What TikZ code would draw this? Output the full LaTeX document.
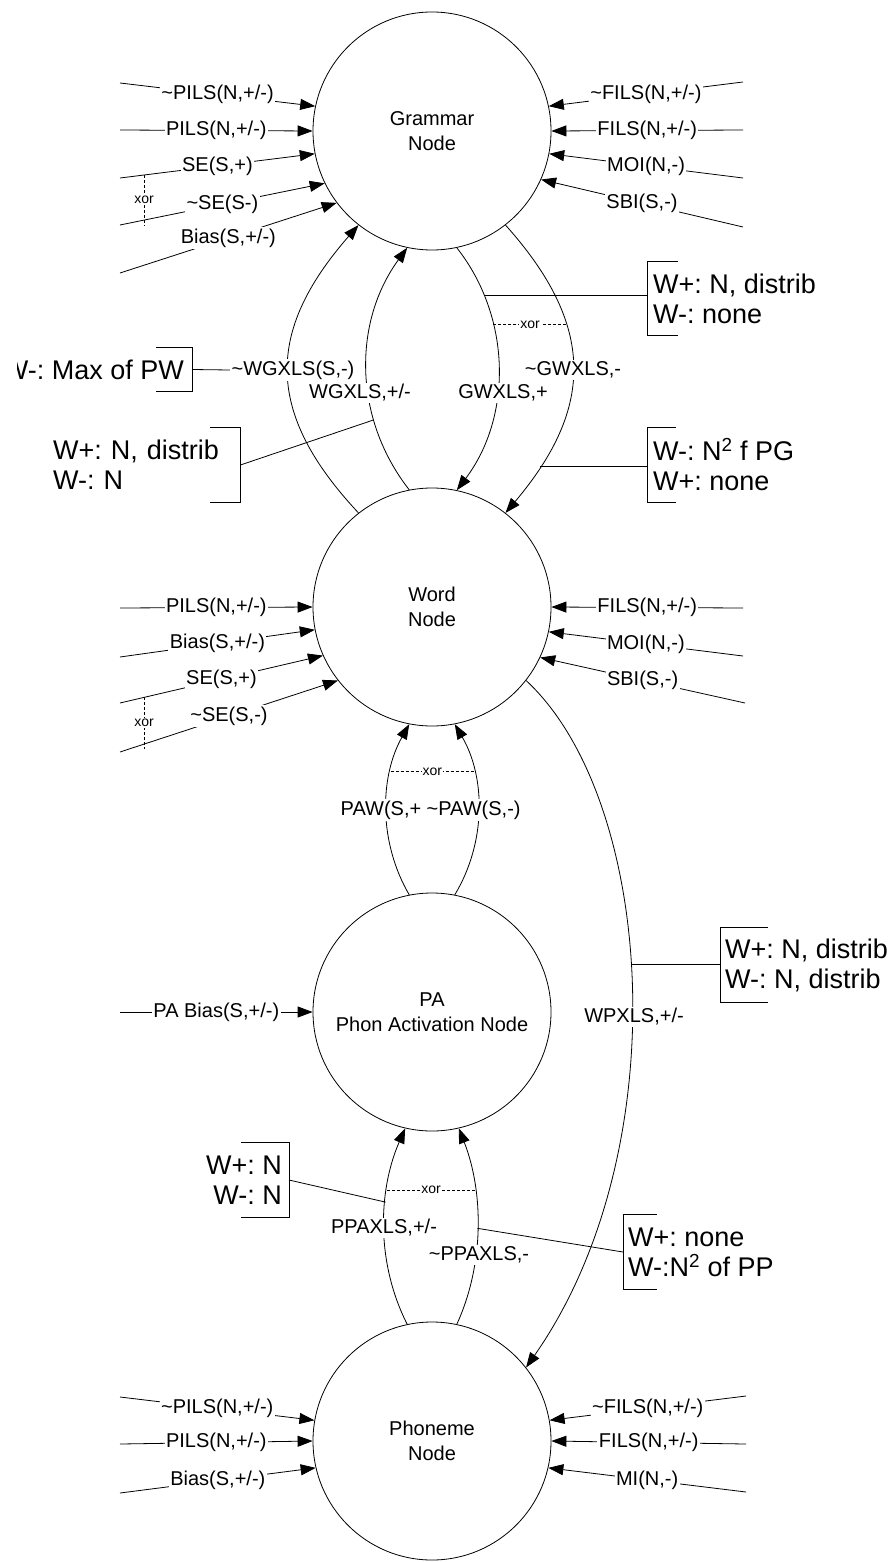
\documentclass[tikz,border=0pt]{standalone}
\usepackage{fontspec}
\setmainfont{Liberation Sans}
\usetikzlibrary{arrows.meta}
\frenchspacing
\begin{document}
\begin{tikzpicture}[x=1pt,y=-1pt,
  every node/.style={font=\fontsize{20}{24}\selectfont},
  conn/.style={line width=0.8pt},
  arr/.style={conn,-{Triangle[length=15pt,width=11pt]}},
  lbl/.style={fill=white,inner sep=1.5pt},
  unit/.style={circle,draw,line width=0.8pt,minimum size=238pt,inner sep=0pt,align=center,font=\fontsize{20}{25}\selectfont},
  ann/.style={font=\fontsize{27}{30}\selectfont,minimum height=74pt,inner ysep=0pt},
  brk/.style={line width=0.8pt},
  xorl/.style={line width=0.6pt,densely dashed},
  xorlbl/.style={fill=white,inner sep=1pt,font=\fontsize{14}{16}\selectfont}]
\fill[white] (0,0) rectangle (892,1562);
\useasboundingbox (0,0) rectangle (892,1562);

% main nodes
\node[unit] (grammar) at (432,131) {Grammar\\Node};
\node[unit] (word) at (432,607) {Word\\Node};
\node[unit] (pa) at (432,1012) {PA\\Phon Activation Node};
\node[unit] (phon) at (432,1441) {Phoneme\\Node};

% Grammar inputs left
\coordinate (gl1) at (120,83);
\coordinate (gl2) at (120,130);
\coordinate (gl3) at (120,178);
\coordinate (gl4) at (120,225);
\coordinate (gl5) at (120,273);
\draw[arr] (gl1) -- node[lbl]{\textasciitilde PILS(N,+/-)} (grammar.168);
\draw[arr] (gl2) -- node[lbl]{PILS(N,+/-)} (grammar.180);
\draw[arr] (gl3) -- coordinate[pos=0.124](gx1) node[lbl]{SE(S,+)} (grammar.191);
\draw[arr] (gl4) -- coordinate[pos=0.117](gx2) node[lbl]{\textasciitilde SE(S-)} (grammar.206);
\draw[arr] (gl5) -- node[lbl]{Bias(S,+/-)} (grammar.217);
\draw[xorl] (gx1) -- node[xorlbl]{xor} ([yshift=-5pt]gx1 |- gx2);

% Grammar inputs right
\coordinate (gr1) at (743,82);
\coordinate (gr2) at (743,130);
\coordinate (gr3) at (743,178);
\coordinate (gr4) at (743,227);
\draw[arr] (gr1) -- node[lbl]{\textasciitilde FILS(N,+/-)} (grammar.12);
\draw[arr] (gr2) -- node[lbl]{FILS(N,+/-)} (grammar.0);
\draw[arr] (gr3) -- node[lbl]{MOI(N,-)} (grammar.349);
\draw[arr] (gr4) -- node[lbl]{SBI(S,-)} (grammar.336);

% Word inputs left
\coordinate (wl1) at (120,608);
\coordinate (wl2) at (120,657);
\coordinate (wl3) at (120,703);
\coordinate (wl4) at (120,752);
\draw[arr] (wl1) -- node[lbl]{PILS(N,+/-)} (word.180);
\draw[arr] (wl2) -- node[lbl]{Bias(S,+/-)} (word.191);
\draw[arr] (wl3) -- coordinate[pos=0.119](wx1) node[lbl]{SE(S,+)} (word.204);
\draw[arr] (wl4) -- coordinate[pos=0.112](wx2) node[lbl]{\textasciitilde SE(S,-)} (word.218);
\draw[xorl] (wx1) -- node[xorlbl]{xor} ([yshift=-5pt]wx1 |- wx2);

% Word inputs right
\coordinate (wr1) at (743,608);
\coordinate (wr2) at (743,656);
\coordinate (wr3) at (745,703);
\draw[arr] (wr1) -- node[lbl]{FILS(N,+/-)} (word.0);
\draw[arr] (wr2) -- node[lbl]{MOI(N,-)} (word.348);
\draw[arr] (wr3) -- node[lbl]{SBI(S,-)} (word.335);

% PA input
\coordinate (pl1) at (120,1012);
\draw[arr] (pl1) -- node[lbl]{PA Bias(S,+/-)} (pa.180);

% Phoneme inputs
\coordinate (phl1) at (120,1397);
\coordinate (phl2) at (120,1444);
\coordinate (phl3) at (120,1493);
\draw[arr] (phl1) -- node[lbl]{\textasciitilde PILS(N,+/-)} (phon.170);
\draw[arr] (phl2) -- node[lbl]{PILS(N,+/-)} (phon.180);
\draw[arr] (phl3) -- node[lbl]{Bias(S,+/-)} (phon.193);
\coordinate (phr1) at (746,1396);
\coordinate (phr2) at (746,1444);
\coordinate (phr3) at (746,1492);
\draw[arr] (phr1) -- node[lbl]{\textasciitilde FILS(N,+/-)} (phon.10);
\draw[arr] (phr2) -- node[lbl]{FILS(N,+/-)} (phon.0);
\draw[arr] (phr3) -- node[lbl]{MI(N,-)} (phon.347);

% arcs between nodes
\draw[arr] (word.128) .. controls (265,413) and (265,332) .. (grammar.232);
\draw[arr] (word.101) .. controls (353,418) and (353,322) .. coordinate[pos=0.3](wgi) (grammar.258);
\draw[arr] (grammar.282) .. controls (512,318) and (512,417) .. coordinate[pos=0.21](gwi1) coordinate[pos=0.33](gwi2) (word.78);
\draw[arr] (grammar.308) .. controls (595,325) and (595,407) .. coordinate[pos=0.35](gwo1) coordinate[pos=0.85](gwo2) (word.52);
\draw[arr] (pa.101) .. controls (379,843) and (379,778) .. coordinate[pos=0.72](pawl) (word.259);
\draw[arr] (pa.79) .. controls (486,843) and (486,778) .. coordinate[pos=0.72](pawr) (word.281);
\draw[arr] (phon.102) .. controls (377,1265) and (377,1193) .. coordinate[pos=0.63](ppl1) coordinate[pos=0.69](ppl2) (pa.257);
\draw[arr] (phon.78) .. controls (484,1265) and (484,1193) .. coordinate[pos=0.5](ppr1) coordinate[pos=0.69](ppr2) (pa.283);
\draw[arr] (word.322) .. controls (655,800) and (678,1150) .. coordinate[pos=0.47](wpx) (phon.38);

% xor between arcs
\draw[xorl] (gwi2) -- node[xorlbl]{xor} (gwi2 -| gwo1);
\draw[xorl] (pawl) -- node[xorlbl]{xor} (pawl -| pawr);
\draw[xorl] (ppl2) -- node[xorlbl]{xor} (ppl2 -| ppr2);

% annotation boxes
\node[ann, anchor=west, inner xsep=6pt, align=left] (a1) at (647,298.5) {W+: N, distrib\\W-: none};
\draw[brk] ([xshift=31pt]a1.north west) -- (a1.north west) -- (a1.south west) -- ([xshift=31pt]a1.south west);
\draw[conn] (gwi1) -- (gwi1 -| a1.west);

\node[ann, anchor=west, inner xsep=6pt, align=left] (a2) at (647,465) {W-: N\textsuperscript{2} f PG\\W+: none};
\draw[brk] ([xshift=29pt]a2.north west) -- (a2.north west) -- (a2.south west) -- ([xshift=29pt]a2.south west);
\draw[conn] (gwo2) -- (gwo2 -| a2.west);

\begin{scope}
\clip (17,0) rectangle (892,1562);
\node[ann, anchor=east, inner xsep=8pt, minimum height=43pt] (a3) at (192,369.5) {W-: Max of PW};
\end{scope}
\draw[brk] ([xshift=-36pt]a3.north east) -- (a3.north east) -- (a3.south east) -- ([xshift=-36pt]a3.south east);

\node[ann, anchor=west, inner xsep=0pt, text width=187pt, align=left] (a4) at (53,465) {W+: N, distrib\\W-: N};
\draw[brk] ([xshift=-30pt]a4.north east) -- (a4.north east) -- (a4.south east) -- ([xshift=-30pt]a4.south east);
\draw[conn] (a4.east) -- (wgi);

\node[ann, anchor=west, inner xsep=5pt, align=left] (a5) at (720,965) {W+: N, distrib\\W-: N, distrib};
\draw[brk] ([xshift=48pt]a5.north west) -- (a5.north west) -- (a5.south west) -- ([xshift=48pt]a5.south west);
\draw[conn] (wpx) -- (wpx -| a5.west);

\node[ann, anchor=east, inner xsep=7pt, align=right] (a6) at (289,1180) {W+: N\\W-: N};
\draw[brk] ([xshift=-48pt]a6.north east) -- (a6.north east) -- (a6.south east) -- ([xshift=-48pt]a6.south east);
\draw[conn] (a6.east) -- (ppl1);

\node[ann, anchor=west, inner xsep=5pt, align=left] (a7) at (623,1252) {W+: none\\W-:N\textsuperscript{2} of PP};
\draw[brk] ([xshift=34pt]a7.north west) -- (a7.north west) -- (a7.south west) -- ([xshift=34pt]a7.south west);
\draw[conn] (a7.west) -- (ppr1);

% arc labels
\node[lbl] (lwgi) at (360,393) {WGXLS,+/-};
\node[lbl] (lwgo) at (293,370) {\textasciitilde WGXLS(S,-)};
\node[lbl] (lgwi) at (503,393) {GWXLS,+};
\node[lbl] (lgwo) at (573,370) {\textasciitilde GWXLS,-};
\node[lbl, anchor=east] (lpawl) at (423,810) {PAW(S,+};
\node[lbl, anchor=west] (lpawr) at (425,810) {\textasciitilde PAW(S,-)};
\node[lbl] (lppl) at (384,1228) {PPAXLS,+/-};
\node[lbl] (lppr) at (479,1255) {\textasciitilde PPAXLS,-};
\node[lbl] (lwpx) at (634,1017) {WPXLS,+/-};
\draw[conn] (a3.east) -- (lwgo.west);
\end{tikzpicture}
\end{document}
